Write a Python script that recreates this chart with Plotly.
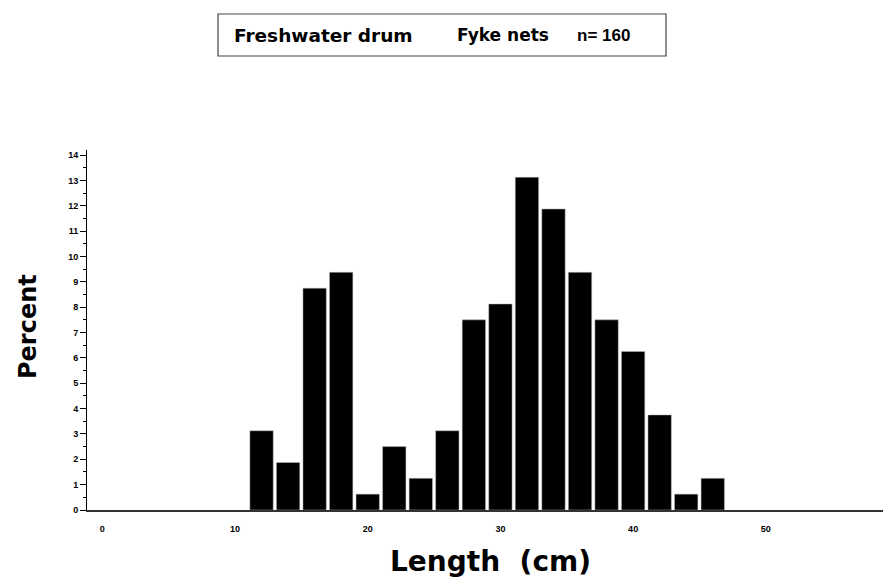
import plotly.graph_objects as go

# Data
length_cm = [12, 14, 16, 18, 20, 22, 24, 26, 28, 30, 32, 34, 36, 38, 40, 42, 44, 46]
percent = [3.125, 1.875, 8.75, 9.375, 0.625, 2.5, 1.25, 3.125, 7.5, 8.125,
           13.125, 11.875, 9.375, 7.5, 6.25, 3.75, 0.625, 1.25]
x_ticks = [0, 10, 20, 30, 40, 50]
y_ticks = list(range(0, 15))
title_parts = ["Freshwater drum", "Fyke nets", "n=\u00a0160"]

W, H = 883, 580
# plot area in page pixels: x 87..883, y 150..510
L, R, T, B = 87, 0, 150, 580 - 510
pw, ph = W - L - R, H - T - B


def px(xp):
    return (xp - L) / pw


def py(yp):
    return (H - B - yp) / ph


fig = go.Figure()
fig.add_trace(go.Bar(
    x=length_cm, y=percent, width=1.76,
    marker=dict(color="black", line=dict(color="#bbbbbb", width=0.5)),
    hoverinfo="skip",
))

tickfont = dict(size=9, family="Liberation Sans, Arial", weight="bold", color="black")

fig.update_layout(
    width=W, height=H,
    margin=dict(l=L, r=R, t=T, b=B),
    plot_bgcolor="white", paper_bgcolor="white",
    showlegend=False,
    font=dict(family="Liberation Sans, Arial", color="black"),
    xaxis=dict(
        range=[-1.153, 58.83], tickvals=x_ticks, ticks="",
        ticklabelstandoff=10, tickfont=tickfont,
        showline=True, linecolor="#333333", linewidth=1.5,
        showgrid=False, zeroline=False, fixedrange=True,
    ),
    yaxis=dict(
        range=[0, 14.2], tickvals=y_ticks, ticks="outside", ticklen=6,
        tickwidth=1, tickcolor="black", tickfont=tickfont,
        minor=dict(dtick=0.5, ticks="outside", ticklen=3, tickcolor="black", showgrid=False),
        showline=True, linecolor="black", linewidth=1,
        showgrid=False, zeroline=False, fixedrange=True,
    ),
    shapes=[dict(
        type="rect", xref="paper", yref="paper",
        x0=px(218), x1=px(666), y0=py(56), y1=py(14),
        line=dict(color="#444444", width=1.2), fillcolor="white",
    )],
    annotations=[
        dict(text=f"<b>{title_parts[0]}</b>", xref="paper", yref="paper",
             x=px(232), y=py(35), xanchor="left", yanchor="middle",
             showarrow=False, font=dict(size=18.5, family="DejaVu Sans")),
        dict(text=f"<b>{title_parts[1]}</b>", xref="paper", yref="paper",
             x=px(455), y=py(35), xanchor="left", yanchor="middle",
             showarrow=False, font=dict(size=17, family="DejaVu Sans")),
        dict(text=f"<b>{title_parts[2]}</b>", xref="paper", yref="paper",
             x=px(575), y=py(35), xanchor="left", yanchor="middle",
             showarrow=False, font=dict(size=17, family="Liberation Sans")),
        dict(text="<b>Percent</b>", xref="paper", yref="paper",
             x=px(28), y=py(327), xanchor="center", yanchor="middle",
             textangle=-90, showarrow=False,
             font=dict(size=24, family="DejaVu Sans")),
        dict(text="<b>Length\u00a0\u00a0(cm)</b>", xref="paper", yref="paper",
             x=px(490), y=py(561), xanchor="center", yanchor="middle",
             showarrow=False, font=dict(size=28, family="DejaVu Sans")),
    ],
)

fig.write_html(
    "out.html",
    config={"displayModeBar": False, "staticPlot": True},
    post_script="document.body.style.margin='0';document.body.style.overflow='hidden';",
)
